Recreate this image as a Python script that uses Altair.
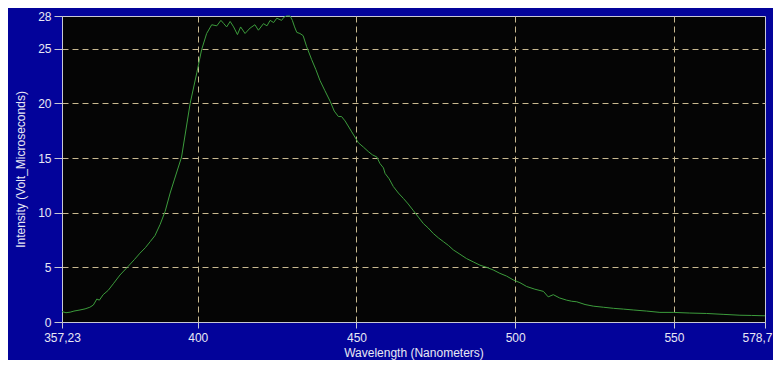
import altair as alt
import pandas as pd

wavelength = [357.23, 358.5, 359.8, 361.0, 362.9, 364.5, 366.0, 367.1, 368.2, 369.0,
              370.2, 371.8, 373.4, 375.5, 378.1, 380.0, 381.8, 383.5, 385.0, 386.5,
              388.1, 389.7, 391.3, 392.6, 394.9, 397.6, 399.7, 401.2, 402.8, 404.4,
              406.0, 407.3, 408.2, 409.1, 410.2, 411.3, 412.5, 413.5, 414.9, 416.5,
              418.0, 419.1, 420.7, 421.8, 422.8, 423.9, 424.9, 426.4, 427.2, 428.0,
              429.1, 429.8, 430.5, 431.2, 432.2, 433.2, 434.3, 435.9, 437.2, 438.5,
              440.0, 441.7, 443.0, 444.3, 445.3, 446.4, 448.5, 450.6, 452.2, 453.7,
              455.0, 456.4, 457.4, 458.5, 459.0, 460.3, 461.6, 463.2, 464.8, 466.3,
              467.9, 469.5, 471.1, 472.6, 474.2, 475.8, 477.4, 479.0, 480.5, 482.6,
              484.7, 486.8, 488.9, 491.0, 493.1, 495.2, 497.3, 499.4, 501.5, 503.6,
              506.2, 508.9, 510.4, 512.0, 514.0, 516.2, 517.8, 519.4, 522.0, 524.6,
              527.8, 531.0, 534.1, 537.2, 541.4, 545.6, 549.8, 555.0, 560.3, 565.5,
              570.8, 574.5, 578.7]

intensity = [0.95, 0.85, 0.9, 1.0, 1.1, 1.2, 1.35, 1.55, 2.1, 2.0,
             2.5, 2.9, 3.5, 4.3, 5.1, 5.7, 6.3, 6.8, 7.35, 7.9,
             8.9, 10.1, 11.8, 13.0, 15.1, 20.0, 22.8, 24.9, 26.4, 27.2,
             27.1, 27.6, 27.3, 27.0, 27.5, 27.0, 26.3, 27.0, 26.4, 26.9,
             27.2, 26.7, 27.3, 27.1, 27.6, 27.4, 27.8, 27.6, 27.9, 28.0,
             28.0, 27.6, 27.0, 26.5, 26.4, 26.2, 25.2, 24.0, 23.1, 22.1,
             21.2, 20.2, 19.3, 18.8, 18.8, 18.4, 17.4, 16.4, 16.0, 15.6,
             15.3, 15.1, 14.5, 14.1, 13.6, 13.1, 12.4, 11.8, 11.3, 10.8,
             10.2, 9.6, 9.0, 8.6, 8.1, 7.7, 7.35, 7.0, 6.6, 6.2,
             5.8, 5.5, 5.2, 5.0, 4.76, 4.45, 4.2, 3.85, 3.6, 3.25,
             3.0, 2.8, 2.3, 2.5, 2.2, 2.0, 1.9, 1.85, 1.6, 1.45,
             1.35, 1.25, 1.18, 1.1, 1.0, 0.88, 0.88, 0.82, 0.78, 0.7,
             0.62, 0.6, 0.57]

x_ticks = [357.23, 400, 450, 500, 550, 578.7]
y_ticks = [0, 5, 10, 15, 20, 25, 28]

df = pd.DataFrame({"wl": wavelength, "inten": intensity})

FONT = "Liberation Sans"
TXT = "#e8e8f4"
GRID = "#c8b890"
AXIS = "#c8c8d4"

x_axis = alt.Axis(
    values=x_ticks,
    title="Wavelength (Nanometers)",
    labelExpr="replace(format(datum.value, ''), '.', ',')",
    labelFont=FONT, labelFontSize=12, labelColor=TXT,
    titleFont=FONT, titleFontSize=12, titleColor=TXT, titleFontWeight="normal",
    titlePadding=4, labelPadding=4,
    tickColor=AXIS, tickSize=6, domainColor=AXIS,
    grid=True, gridColor=GRID, gridDash=[6, 4], gridWidth=1,
    gridOpacity={"condition": {"test": "datum.value < 358 || datum.value > 578", "value": 0}, "value": 1},
    labelAlign={"condition": {"test": "datum.value > 578", "value": "right"}, "value": "center"},
    labelOffset={"condition": {"test": "datum.value > 578", "value": 7}, "value": 0},
    labelFlush=False, labelOverlap=False,
)
y_axis = alt.Axis(
    values=y_ticks,
    title="Intensity (Volt_Microseconds)",
    labelFont=FONT, labelFontSize=12, labelColor=TXT,
    titleFont=FONT, titleFontSize=12, titleColor=TXT, titleFontWeight="normal",
    titlePadding=10, labelPadding=3,
    tickColor=AXIS, tickSize=8, domainColor=AXIS,
    grid=True, gridColor=GRID, gridDash=[6, 4], gridWidth=1,
    gridOpacity={"condition": {"test": "datum.value < 1 || datum.value > 27", "value": 0}, "value": 1},
    labelFlush=False, labelOverlap=False,
)

chart = alt.Chart(df).mark_line(color="#3c9c3c", strokeWidth=1).encode(
    x=alt.X("wl:Q", scale=alt.Scale(domain=[357.23, 578.7], nice=False, zero=False), axis=x_axis),
    y=alt.Y("inten:Q", scale=alt.Scale(domain=[0, 28], nice=False), axis=y_axis),
).properties(
    width=703, height=306,
    background="#03039a",
    padding={"left": 54, "top": 8, "right": 8, "bottom": 38},
    autosize="none",
).configure_view(
    fill="#050505", stroke=AXIS, strokeWidth=1,
)

chart.save("out.html", embed_options={"renderer": "svg", "actions": False})
